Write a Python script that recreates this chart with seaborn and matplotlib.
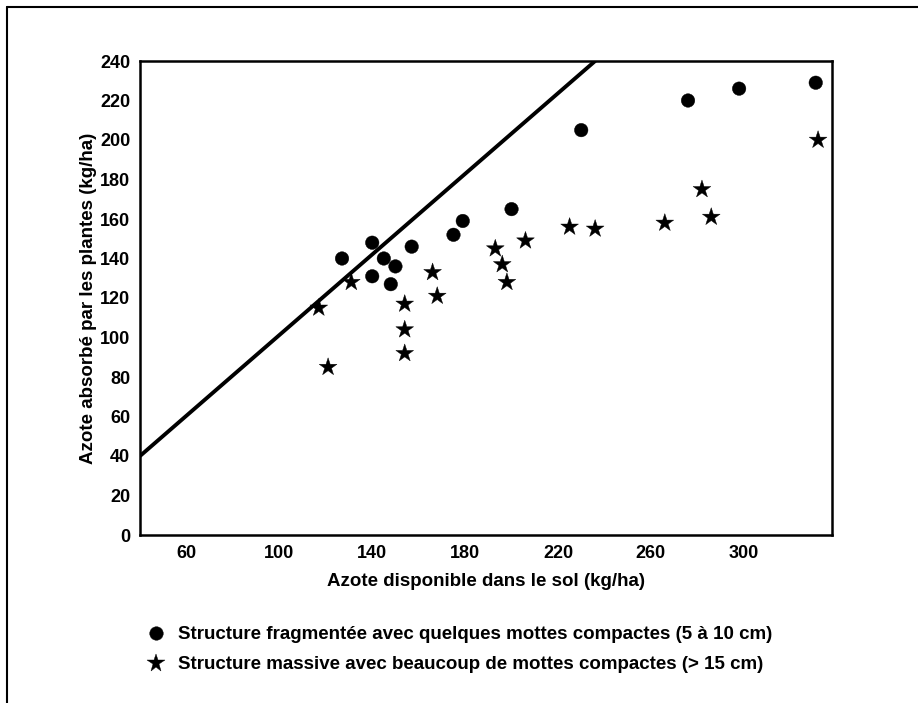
import matplotlib
matplotlib.use("Agg")
import matplotlib.pyplot as plt
import pandas as pd
import seaborn as sns
from matplotlib.lines import Line2D

# ------------------------- data ------------------------- #

frag_label = "Structure fragmentée avec quelques mottes compactes (5 à 10 cm)"
mass_label = "Structure massive avec beaucoup de mottes compactes (> 15 cm)"

frag_x = [127, 140, 140, 145, 150, 148, 157, 175, 179, 200, 230, 276, 298, 331]
frag_y = [140, 148, 131, 140, 136, 127, 146, 152, 159, 165, 205, 220, 226, 229]

mass_x = [117, 121, 131, 154, 154, 154, 166, 168, 193, 196, 198, 206, 225, 236, 266, 282, 286, 332]
mass_y = [115, 85, 128, 117, 104, 92, 133, 121, 145, 137, 128, 149, 156, 155, 158, 175, 161, 200]

# reference line (drawn from the left edge to the top of the frame)
line_x = [40, 236]
line_y = [40, 240]

x_ticks = list(range(60, 321, 20))
x_ticklabels = [str(v) if (v - 60) % 40 == 0 else '' for v in x_ticks]
y_ticks = list(range(0, 241, 20))

df = pd.concat([
    pd.DataFrame({'x': frag_x, 'y': frag_y, 'structure': frag_label}),
    pd.DataFrame({'x': mass_x, 'y': mass_y, 'structure': mass_label}),
], ignore_index=True)

# ------------------------------- plotting ----------------------------------- #

sns.set_theme(style='white')
plt.rcParams['font.family'] = ['Liberation Sans', 'DejaVu Sans']
plt.rcParams['font.weight'] = 'bold'
plt.rcParams['axes.labelweight'] = 'bold'
plt.rcParams['text.color'] = 'black'
plt.rcParams['axes.labelcolor'] = 'black'
plt.rcParams['xtick.color'] = 'black'
plt.rcParams['ytick.color'] = 'black'

W, H = 918, 703
fig = plt.figure(figsize=(W / 100, H / 100), dpi=100)
ax = fig.add_axes([140 / W, 1 - 535 / H, 692 / W, 474 / H])

sns.lineplot(x=line_x, y=line_y, color='black', lw=2.8, ax=ax)
sns.scatterplot(data=df, x='x', y='y', style='structure', size='structure',
                markers={frag_label: 'o', mass_label: '*'},
                sizes={frag_label: 95, mass_label: 180},
                color='black', edgecolor='black', linewidth=0.3, ax=ax)

ax.set(xlim=(40, 338), ylim=(0, 240))
ax.set_xticks(x_ticks)
ax.set_xticklabels(x_ticklabels)
ax.set_yticks(y_ticks)
ax.tick_params(direction='in', length=5, width=1.5, labelsize=13, pad=7)
for sp in ax.spines.values():
    sp.set_color('black')
    sp.set_linewidth(1.8)

ax.set_xlabel('Azote disponible dans le sol (kg/ha)', fontsize=13.5, labelpad=8)
ax.set_ylabel('Azote absorbé par les plantes (kg/ha)', fontsize=13.5, labelpad=2)

sns.move_legend(ax, 'upper left', bbox_to_anchor=(148 / W, 1 - 626 / H),
                bbox_transform=fig.transFigure, frameon=False, title=None,
                fontsize=13.5, handlelength=0.8, handletextpad=0.8,
                labelspacing=0.7, borderpad=0, borderaxespad=0)

# page frame (left and top rules)
fig.add_artist(Line2D([7 / W, 7 / W], [0, 1 - 7 / H], transform=fig.transFigure, color='black', lw=1.5))
fig.add_artist(Line2D([7 / W, 1], [1 - 7 / H, 1 - 7 / H], transform=fig.transFigure, color='black', lw=1.5))

fig.savefig('out.png', dpi=100)
